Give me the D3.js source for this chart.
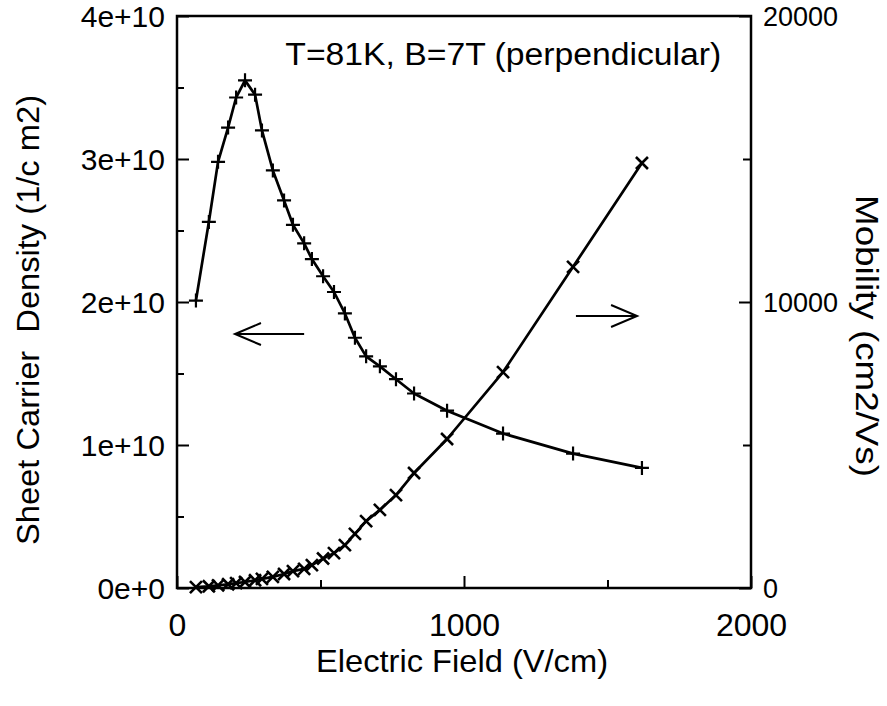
<!DOCTYPE html>
<html>
<head>
<meta charset="utf-8">
<script src="https://cdn.jsdelivr.net/npm/d3@7"></script>
<style>
  body { margin: 0; background: #fff; }
  svg text { font-family: "Liberation Sans", Arial, sans-serif; fill: #000; white-space: pre; }
</style>
</head>
<body>
<svg id="chart" width="887" height="706"></svg>
<script>
// Electric field (V/cm), shared by both series
const fieldValues = [66, 111, 143, 178, 206, 237, 272, 296, 334, 373, 404, 443, 470,
  509, 547, 585, 620, 659, 707, 763, 826, 941, 1136, 1380, 1620];
// Sheet carrier density (1/cm2), "+" markers, left axis
const densityValues = [2.01e10, 2.56e10, 2.98e10, 3.22e10, 3.43e10, 3.55e10, 3.45e10,
  3.20e10, 2.92e10, 2.71e10, 2.54e10, 2.41e10, 2.30e10, 2.18e10, 2.07e10, 1.92e10,
  1.75e10, 1.62e10, 1.55e10, 1.46e10, 1.36e10, 1.24e10, 1.08e10, 0.94e10, 0.84e10];
// Mobility (cm2/Vs), "x" markers, right axis
const mobilityValues = [30, 60, 90, 130, 170, 210, 270, 320, 390, 490, 590, 670, 800,
  1030, 1220, 1500, 1890, 2340, 2730, 3250, 4020, 5210, 7550, 11230, 14860];

const xTicks = [0, 1000, 2000];
const xMinorTicks = [500, 1500];
const leftTicks = [0, 1e10, 2e10, 3e10, 4e10];
const leftTickLabels = ["0e+0", "1e+10", "2e+10", "3e+10", "4e+10"];
const leftMinorTicks = [0.5e10, 1.5e10, 2.5e10, 3.5e10];
const rightTicks = [0, 10000, 20000];
const rightMinorTicks = [5000, 15000];

const annotation = "T=81K, B=7T (perpendicular)";
const xTitle = "Electric Field (V/cm)";
const leftTitle = "Sheet Carrier  Density (1/c m2)";
const rightTitle = "Mobility (cm2/Vs)";

const svg = d3.select("#chart");
const margin = { top: 16, right: 136, bottom: 118, left: 177 };
const innerW = 887 - margin.left - margin.right;
const innerH = 706 - margin.top - margin.bottom;

const x = d3.scaleLinear().domain([0, 2000]).range([0, innerW]);
const yL = d3.scaleLinear().domain([0, 4e10]).range([innerH, 0]);
const yR = d3.scaleLinear().domain([0, 20000]).range([innerH, 0]);

const g = svg.append("g").attr("transform", `translate(${margin.left},${margin.top})`);

function styleAxis(sel) {
  sel.select(".domain").remove();
  sel.selectAll(".tick line").attr("stroke", "#000").attr("stroke-width", 2);
}

// bottom axis
g.append("g")
  .attr("transform", `translate(0,${innerH})`)
  .call(d3.axisBottom(x).tickValues(xTicks).tickSize(-12).tickPadding(25).tickFormat(d3.format("d")))
  .call(styleAxis)
  .call((a) => a.selectAll("text").attr("font-size", 32).attr("font-family", "Liberation Sans, Arial, sans-serif"));
g.append("g")
  .attr("transform", `translate(0,${innerH})`)
  .call(d3.axisBottom(x).tickValues(xMinorTicks).tickSize(-8).tickFormat(""))
  .call(styleAxis);

// left axis
g.append("g")
  .call(d3.axisLeft(yL).tickValues(leftTicks).tickSize(-12).tickPadding(12)
    .tickFormat((d, i) => leftTickLabels[i]))
  .call(styleAxis)
  .call((a) => a.selectAll("text").attr("font-size", 30).attr("dy", "0.36em")
    .attr("font-family", "Liberation Sans, Arial, sans-serif"));
g.append("g")
  .call(d3.axisLeft(yL).tickValues(leftMinorTicks).tickSize(-7).tickFormat(""))
  .call(styleAxis);

// right axis
g.append("g")
  .attr("transform", `translate(${innerW},0)`)
  .call(d3.axisRight(yR).tickValues(rightTicks).tickSize(-12).tickPadding(12).tickFormat(d3.format("d")))
  .call(styleAxis)
  .call((a) => a.selectAll("text").attr("font-size", 27).attr("dy", "0.36em")
    .attr("font-family", "DejaVu Sans, Verdana, sans-serif"));
g.append("g")
  .attr("transform", `translate(${innerW},0)`)
  .call(d3.axisRight(yR).tickValues(rightMinorTicks).tickSize(-8).tickFormat(""))
  .call(styleAxis);

// frame
g.append("rect")
  .attr("width", innerW).attr("height", innerH)
  .attr("fill", "none").attr("stroke", "#000").attr("stroke-width", 2.5);

// series
const densityData = fieldValues.map((f, i) => ({ x: f, y: densityValues[i] }));
const mobilityData = fieldValues.map((f, i) => ({ x: f, y: mobilityValues[i] }));

g.append("path")
  .datum(densityData)
  .attr("fill", "none").attr("stroke", "#000").attr("stroke-width", 2.7)
  .attr("stroke-linejoin", "round")
  .attr("d", d3.line().x((d) => x(d.x)).y((d) => yL(d.y)));

g.append("path")
  .datum(mobilityData)
  .attr("fill", "none").attr("stroke", "#000").attr("stroke-width", 2.7)
  .attr("stroke-linejoin", "round")
  .attr("d", d3.line().x((d) => x(d.x)).y((d) => yR(d.y)));

g.selectAll("path.plus")
  .data(densityData)
  .join("path")
  .attr("class", "plus")
  .attr("transform", (d) => `translate(${x(d.x)},${yL(d.y)})`)
  .attr("d", "M-7,0H7M0,-7V7")
  .attr("stroke", "#000").attr("stroke-width", 2.2).attr("fill", "none");

g.selectAll("path.times")
  .data(mobilityData)
  .join("path")
  .attr("class", "times")
  .attr("transform", (d) => `translate(${x(d.x)},${yR(d.y)})`)
  .attr("d", "M-6,-6L6,6M-6,6L6,-6")
  .attr("stroke", "#000").attr("stroke-width", 2.6).attr("fill", "none");

// arrows
function arrow(x0, x1, yPix) {
  const dir = Math.sign(x1 - x0);
  const tip = x1;
  g.append("path")
    .attr("d", `M${x0},${yPix}H${tip}M${tip - dir * 26},${yPix - 11}L${tip},${yPix}L${tip - dir * 26},${yPix + 11}`)
    .attr("fill", "none").attr("stroke", "#000").attr("stroke-width", 2);
}
arrow(x(443), x(202), yL(1.776e10));
arrow(x(1390), x(1603), yR(9510));

// annotation
g.append("text")
  .attr("x", x(1137)).attr("y", yL(3.66e10))
  .attr("text-anchor", "middle")
  .attr("font-size", 31)
  .attr("textLength", 436).attr("lengthAdjust", "spacingAndGlyphs")
  .text(annotation);

// axis titles
svg.append("text")
  .attr("x", 462).attr("y", 672)
  .attr("text-anchor", "middle").attr("font-size", 32)
  .attr("textLength", 292).attr("lengthAdjust", "spacingAndGlyphs")
  .text(xTitle);

svg.append("text")
  .attr("transform", "translate(39,320) rotate(-90)")
  .attr("text-anchor", "middle").attr("font-size", 32)
  .attr("textLength", 450).attr("lengthAdjust", "spacingAndGlyphs")
  .text(leftTitle);

svg.append("text")
  .attr("transform", "translate(856,336) rotate(90)")
  .attr("text-anchor", "middle").attr("font-size", 32)
  .attr("textLength", 282).attr("lengthAdjust", "spacingAndGlyphs")
  .text(rightTitle);
</script>
</body>
</html>
